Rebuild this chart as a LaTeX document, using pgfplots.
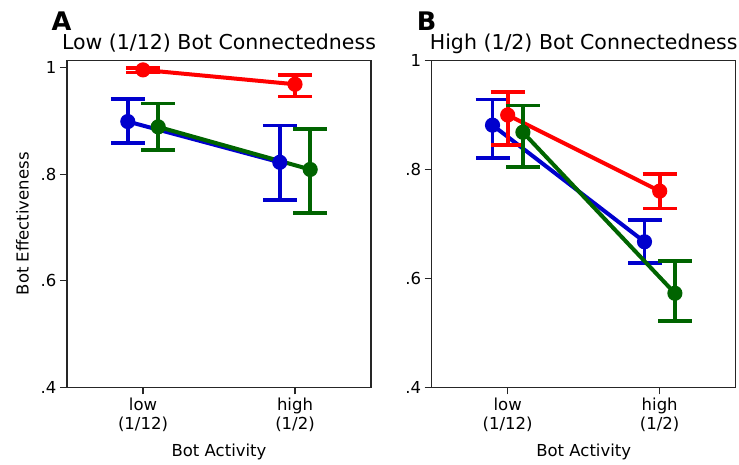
\documentclass[border=0pt]{standalone}
\usepackage{fontspec}
\setmainfont{DejaVu Sans}
\usepackage{pgfplots}
\pgfplotsset{compat=1.18}
\definecolor{myblue}{RGB}{0,0,205}
\definecolor{mygreen}{RGB}{0,100,0}
\definecolor{myred}{RGB}{255,0,0}
\pgfplotsset{
  panel/.style={
    scale only axis, width=304pt, height=327pt,
    xmin=-0.5, xmax=1.5, ymin=0.4,
    xtick={0,1}, xticklabels={low\\(1/12), high\\(1/2)},
    xticklabel style={align=center},
    ytick={0.4,0.6,0.8,1}, yticklabels={.4,.6,.8,1},
    xtick pos=bottom, ytick pos=left,
    tick align=outside, major tick length=7pt,
    tick style={line width=1.2pt, black!85},
    axis line style={line width=1.2pt, black!85},
    tick label style={font=\fontsize{16.5}{19.5}\selectfont},
    every axis x label/.style={at={(axis description cs:0.5,-0.2122)}, anchor=base, font=\fontsize{16.5}{19.5}\selectfont},
    every axis y label/.style={at={(axis description cs:-0.1266,0.5)}, rotate=90, anchor=base, font=\fontsize{16.5}{19.5}\selectfont},
    every axis title/.style={font=\fontsize{20.5}{23}\selectfont, at={(0.5,1)}, anchor=base, yshift=10.3pt},
    xlabel={Bot Activity},
  },
  ser/.style={color=#1, line width=4pt, mark=*, mark size=5.8pt, mark options={solid, line width=3.5pt},
    error bars/.cd, y dir=both, y explicit,
    error bar style={line width=3.8pt, color=#1},
    error mark options={rotate=90, mark size=17pt, line width=3.8pt, color=#1}},
}
\begin{document}
\begin{tikzpicture}[x=1pt,y=1pt]
\useasboundingbox (0,0) rectangle (739,464);
\begin{axis}[panel, at={(67pt,76.7pt)}, anchor=south west, ymax=1.014,
  title={Low (1/12) Bot Connectedness}, ylabel={Bot Effectiveness}]
\addplot[ser=myblue] table[x=x, y=y, y error plus=ep, y error minus=em] {
x y ep em
-0.1 0.899 0.042 0.041
0.9 0.8225 0.069 0.071
};
\addplot[ser=myred] table[x=x, y=y, y error plus=ep, y error minus=em] {
x y ep em
0 0.996 0.004 0.005
1 0.969 0.017 0.023
};
\addplot[ser=mygreen] table[x=x, y=y, y error plus=ep, y error minus=em] {
x y ep em
0.1 0.889 0.044 0.043
1.1 0.809 0.076 0.082
};
\end{axis}
\begin{axis}[panel, at={(431.7pt,76.7pt)}, anchor=south west, ymax=1.0,
  title={High (1/2) Bot Connectedness}]
\addplot[ser=myblue] table[x=x, y=y, y error plus=ep, y error minus=em] {
x y ep em
-0.1 0.881 0.047 0.060
0.9 0.667 0.040 0.0395
};
\addplot[ser=myred] table[x=x, y=y, y error plus=ep, y error minus=em] {
x y ep em
0 0.8996 0.0416 0.0556
1 0.760 0.031 0.032
};
\addplot[ser=mygreen] table[x=x, y=y, y error plus=ep, y error minus=em] {
x y ep em
0.1 0.868 0.049 0.064
1.1 0.5725 0.0595 0.0505
};
\end{axis}
\node[anchor=base west, inner sep=0pt, font=\bfseries\fontsize{25.6}{28}\selectfont] at (51.5,433.7) {A};
\node[anchor=base west, inner sep=0pt, font=\bfseries\fontsize{25.6}{28}\selectfont] at (416.7,433.7) {B};
\end{tikzpicture}
\end{document}
